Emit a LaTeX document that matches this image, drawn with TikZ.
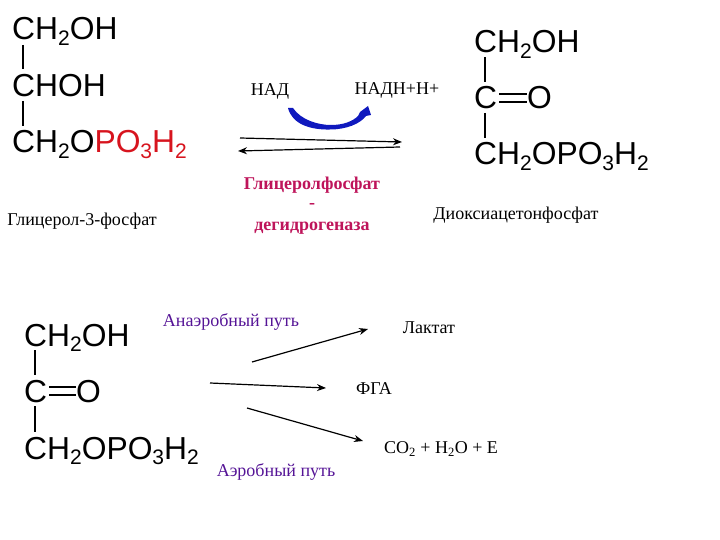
\documentclass[tikz,border=0pt]{standalone}
\usepackage{fontspec}
\setmainfont{Liberation Serif}
\newfontfamily\chemfont{Liberation Sans}
\usetikzlibrary{arrows.meta}
\definecolor{enzc}{RGB}{190,20,90}
\definecolor{pathc}{RGB}{85,20,150}
\definecolor{phosc}{RGB}{215,20,30}
\definecolor{nadc}{RGB}{15,25,190}
\newcommand{\sbs}[1]{\raisebox{-0.16em}{\fontsize{21}{21}\selectfont #1}}
\begin{document}
\begin{tikzpicture}[x=1pt,y=-1pt,
  chem/.style={inner sep=0pt,anchor=base west,font=\chemfont\fontsize{31.8}{34}\selectfont,text=black},
  lbl/.style={inner sep=0pt,anchor=center,font=\fontsize{18}{20}\selectfont,text=black},
  enz/.style={lbl,font=\bfseries\fontsize{18}{20}\selectfont,text=enzc},
  way/.style={lbl,text=pathc},
  bond/.style={line width=2pt,black},
  arr/.style={line width=1.2pt,black,-{Stealth[length=9pt,width=7pt]}}]
\useasboundingbox (0,0) rectangle (720,540);
% formula 1
\node[chem] (a1) at (12,40) {CH\sbs{2}OH};
\node[chem] (a2) at (12,97) {CHOH};
\node[chem] (a3) at (12,153) {CH\sbs{2}O\textcolor{phosc}{PO\sbs{3}H\sbs{2}}};
\coordinate (a1b) at (23,45); \coordinate (a2t) at (23,69);
\coordinate (a2b) at (23,101); \coordinate (a3t) at (23,126);
\draw[bond] (a1b) -- (a2t);
\draw[bond] (a2b) -- (a3t);
% formula 2
\node[chem] (b1) at (474,53) {CH\sbs{2}OH};
\node[chem] (b2) at (474,109) {C};
\node[chem] (b2o) at (527,109) {O};
\node[chem] (b3) at (474,165) {CH\sbs{2}OPO\sbs{3}H\sbs{2}};
\coordinate (b1b) at (485,57); \coordinate (b2t) at (485,82);
\coordinate (b2b) at (485,113); \coordinate (b3t) at (485,138);
\draw[bond] (b1b) -- (b2t);
\draw[bond] (b2b) -- (b3t);
\draw[bond] ([yshift=15pt]b2.base east) ++(2,0) -- ([yshift=15pt]b2o.base west);
\draw[bond] ([yshift=7pt]b2.base east) ++(2,0) -- ([yshift=7pt]b2o.base west);
% formula 3
\node[chem] (c1) at (24,346) {CH\sbs{2}OH};
\node[chem] (c2) at (24,402) {C};
\node[chem] (c2o) at (76,402) {O};
\node[chem] (c3) at (24,459) {CH\sbs{2}OPO\sbs{3}H\sbs{2}};
\coordinate (c1b) at (35,350); \coordinate (c2t) at (35,375);
\coordinate (c2b) at (35,406); \coordinate (c3t) at (35,432);
\draw[bond] (c1b) -- (c2t);
\draw[bond] (c2b) -- (c3t);
\draw[bond] ([yshift=15pt]c2.base east) ++(2,0) -- ([yshift=15pt]c2o.base west);
\draw[bond] ([yshift=7pt]c2.base east) ++(2,0) -- ([yshift=7pt]c2o.base west);
% labels
\node[lbl] (nad) at (270,91) {НАД};
\node[lbl] (nadh) at (397,90) {НАДН+Н+};
\node[lbl] (g3p) at (82,221) {Глицерол-3-фосфат};
\node[lbl] (dhap) at (516,215) {Диоксиацетонфосфат};
\node[enz] (e1) at (312,185) {Глицеролфосфат};
\node[enz] (e2) at (312,206) {-};
\node[enz] (e3) at (312,228) {дегидрогеназа};
\node[way] (an) at (231,322) {Анаэробный путь};
\node[lbl] (lac) at (429,328) {Лактат};
\node[lbl] (fga) at (374,389) {ФГА};
\node[lbl] (co2) at (441,449) {CO\textsubscript{2} + H\textsubscript{2}O + E};
\node[way] (ae) at (276,472) {Аэробный путь};
% NAD arrow
\fill[nadc] (288,108) -- (293,108)
  .. controls (301,120) and (318,125) .. (331,125)
  .. controls (344,125) and (353,121) .. (358,116)
  -- (360,112) -- (368,106) -- (371,115) -- (366,116)
  .. controls (360,124) and (346,129.5) .. (330,129.5)
  .. controls (310,130) and (292,124) .. (288,108) -- cycle;
% reversible arrows
\coordinate (r1s) at (240,138); \coordinate (r1e) at (402,142);
\coordinate (r2s) at (400,147); \coordinate (r2e) at (238,151);
\draw[arr] (r1s) -- (r1e);
\draw[arr] (r2s) -- (r2e);
% lower arrows
\coordinate (s1) at (252,362); \coordinate (e1a) at (368,329);
\coordinate (s2) at (210,383); \coordinate (e2a) at (326,388);
\coordinate (s3) at (247,408); \coordinate (e3a) at (363,441);
\draw[arr] (s1) -- (e1a);
\draw[arr] (s2) -- (e2a);
\draw[arr] (s3) -- (e3a);
\end{tikzpicture}
\end{document}
